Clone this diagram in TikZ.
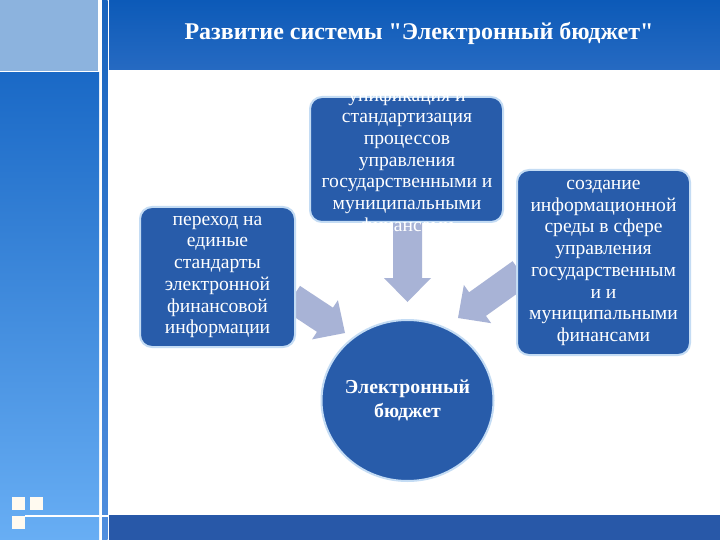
\documentclass[tikz,border=0pt]{standalone}
\usepackage{fontspec}
\setmainfont{Liberation Serif}
\newfontfamily\plainserif{Liberation Serif}
\usetikzlibrary{calc,shapes.geometric}
\definecolor{boxblue}{RGB}{40,92,170}
\definecolor{boxedge}{RGB}{196,220,244}
\definecolor{arrowc}{RGB}{168,179,214}
\definecolor{topbarA}{RGB}{12,90,184}
\definecolor{topbarB}{RGB}{38,106,194}
\definecolor{lightblock}{RGB}{140,179,222}
\definecolor{panelA}{RGB}{26,105,198}
\definecolor{panelB}{RGB}{104,174,244}
\definecolor{stripA}{RGB}{24,100,190}
\definecolor{stripB}{RGB}{80,142,222}
\definecolor{bottombar}{RGB}{40,88,168}
\definecolor{sq}{RGB}{255,250,240}
\tikzset{
  box/.style={draw=boxedge, line width=2pt, fill=boxblue, rounded corners=12pt, inner sep=0pt},
  boxtext/.style={text=white, align=center, inner sep=0pt, font=\fontsize{19.6}{21.7}\selectfont},
  circtext/.style={text=white, align=center, inner sep=0pt, font=\bfseries\fontsize{19.8}{24}\selectfont},
  titletext/.style={text=white, inner sep=0pt, font=\plainserif\bfseries\fontsize{24}{28}\selectfont},
  sqstyle/.style={fill=sq}
}
\newcommand{\blockarr}[2]{%
  \fill[arrowc] ($(#1)!14.5pt!90:(#2)$) -- ($($(#2)!24pt!(#1)$)!14.5pt!90:(#2)$)
    -- ($($(#2)!24pt!(#1)$)!23.5pt!90:(#2)$) -- (#2)
    -- ($($(#2)!24pt!(#1)$)!23.5pt!-90:(#2)$) -- ($($(#2)!24pt!(#1)$)!14.5pt!-90:(#2)$)
    -- ($(#1)!14.5pt!-90:(#2)$) -- cycle;}
\begin{document}
\begin{tikzpicture}[x=1pt,y=-1pt]
\useasboundingbox (0,0) rectangle (720,540);
\fill[white] (0,0) rectangle (720,540);
% background frame
\fill[lightblock] (0,0) rectangle (98,71);
\shade[top color=panelA, bottom color=panelB] (0,73) rectangle (99,540);
\shade[top color=stripA, bottom color=stripB] (102,0) rectangle (107.5,540);
\shade[top color=topbarA, bottom color=topbarB] (109,0) rectangle (720,70);
\fill[bottombar] (109,515) rectangle (720,540);
\draw[white, line width=1.5pt] (25,516) -- (108,516);
\fill[sqstyle] (12,497) rectangle (25,510);
\fill[sqstyle] (30,497) rectangle (43,510);
\fill[sqstyle] (12,516) rectangle (25,529);
\node[titletext] (title) at (419,33) {Развитие системы "Электронный бюджет"};
% arrow end points
\coordinate (la) at (292,298);
\coordinate (lb) at (345,333);
\coordinate (ma) at (407.5,215);
\coordinate (mb) at (407.5,302);
\coordinate (ra) at (521,273);
\coordinate (rb) at (458,318);
\blockarr{la}{lb}
\blockarr{ma}{mb}
\blockarr{ra}{rb}
% boxes
\node[box, minimum width=155pt, minimum height=140pt] (left) at (217.5,277) {};
\node[boxtext] (lefttext) at (217.5,277) {переход на\\единые\\стандарты\\электронной\\финансовой\\информации};
\node[box, minimum width=193pt, minimum height=125pt] (top) at (406.5,159.5) {};
\node[boxtext] (toptext) at (407,161.5) {унификация и\\стандартизация\\процессов\\управления\\государственными и\\муниципальными\\финансами};
\node[box, minimum width=173pt, minimum height=185pt] (right) at (603.5,262.5) {};
\node[boxtext] (righttext) at (603.5,263) {создание\\информационной\\среды в сфере\\управления\\государственным\\и и\\муниципальными\\финансами};
\node[ellipse, draw=boxedge, line width=2pt, fill=boxblue, minimum width=172pt, minimum height=161pt, inner sep=0pt] (eb) at (407.5,400.5) {};
\node[circtext] (ebtext) at (407.5,400) {Электронный\\бюджет};
\end{tikzpicture}
\end{document}
